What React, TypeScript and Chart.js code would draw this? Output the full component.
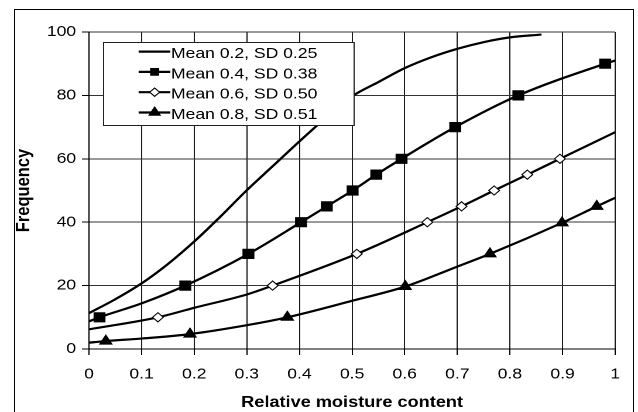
import React, { useEffect, useRef } from 'react';
import { Chart, registerables } from 'chart.js';

Chart.register(...registerables);

// ---------- data ----------
const xTickLabels = ['0', '0.1', '0.2', '0.3', '0.4', '0.5', '0.6', '0.7', '0.8', '0.9', '1'];
const yTickLabels = ['0', '20', '40', '60', '80', '100'];
const seriesNames = ['Mean 0.2, SD 0.25', 'Mean 0.4, SD 0.38', 'Mean 0.6, SD 0.50', 'Mean 0.8, SD 0.51'];
const xTitle = 'Relative moisture content';
const yTitle = 'Frequency';

const s1X = [0, 0.05, 0.1, 0.15, 0.2, 0.25, 0.3, 0.35, 0.4, 0.45, 0.5, 0.55, 0.6, 0.65, 0.7, 0.75, 0.8, 0.86];
const s1Y = [11.3, 15.7, 20.7, 26.8, 33.9, 41.8, 50.1, 57.8, 65.5, 72.9, 79.7, 84.2, 88.6, 92.0, 94.7, 96.8, 98.3, 99.2];

const s2X = [0, 0.02, 0.1, 0.183, 0.303, 0.403, 0.452, 0.501, 0.546, 0.594, 0.696, 0.816, 0.981, 1];
const s2Y = [8.7, 10, 14.4, 20, 30, 40, 45, 50, 55, 60, 70, 80, 90, 91];
const s2Mark = [0, 1, 0, 1, 1, 1, 1, 1, 1, 1, 1, 1, 1, 0];

const s3X = [0, 0.131, 0.2, 0.3, 0.349, 0.509, 0.643, 0.708, 0.77, 0.833, 0.895, 1];
const s3Y = [6.2, 10, 13, 17.2, 20, 30, 40, 45, 50, 55, 60, 68.4];
const s3Mark = [0, 1, 0, 0, 1, 1, 1, 1, 1, 1, 1, 0];

const s4X = [0, 0.032, 0.1, 0.192, 0.3, 0.377, 0.5, 0.601, 0.7, 0.762, 0.899, 0.965, 1];
const s4Y = [2.0, 2.5, 3.3, 4.7, 7.5, 10, 15.2, 19.7, 26, 30, 39.8, 45, 47.7];
const s4Mark = [0, 1, 0, 1, 0, 1, 0, 1, 0, 1, 1, 1, 0];

// ---------- layout / style ----------
const CANVAS_W = 545;
const CANVAS_H = 412;
const STRETCH = 638 / CANVAS_W;
const FONT = "'Liberation Sans', Arial, Helvetica, sans-serif";

type Kind = 'none' | 'rect' | 'rectRot' | 'triangle';
const legendStyles: { kind: Kind; r: number; fill: string }[] = [
  { kind: 'none', r: 0, fill: '#000' },
  { kind: 'rect', r: 4.8, fill: '#000' },
  { kind: 'rectRot', r: 4.2, fill: '#fff' },
  { kind: 'triangle', r: 5.5, fill: '#000' },
];

function drawMarker(ctx: CanvasRenderingContext2D, kind: Kind, x: number, y: number, r: number) {
  ctx.beginPath();
  if (kind === 'rect') {
    const h = r * Math.SQRT1_2;
    ctx.rect(x - h, y - h, 2 * h, 2 * h);
  } else if (kind === 'rectRot') {
    ctx.moveTo(x, y - r);
    ctx.lineTo(x + r, y);
    ctx.lineTo(x, y + r);
    ctx.lineTo(x - r, y);
    ctx.closePath();
  } else if (kind === 'triangle') {
    ctx.moveTo(x, y - r);
    ctx.lineTo(x + r * 0.866, y + r * 0.5);
    ctx.lineTo(x - r * 0.866, y + r * 0.5);
    ctx.closePath();
  }
  ctx.fill();
  ctx.stroke();
}

const boxLegend = {
  id: 'boxLegend',
  afterDraw(chart: any) {
    const { ctx, chartArea } = chart;
    const left = Math.round(chartArea.left + 12.3) + 0.5;
    const top = Math.round(chartArea.top + 10) + 0.5;
    const w = 214;
    const h = 83;
    ctx.save();
    ctx.fillStyle = '#fff';
    ctx.fillRect(left, top, w, h);
    ctx.strokeStyle = '#222';
    ctx.lineWidth = 1;
    ctx.strokeRect(left, top, w, h);
    ctx.font = `15px ${FONT}`;
    ctx.textBaseline = 'alphabetic';
    ctx.textAlign = 'left';
    seriesNames.forEach((name, i) => {
      const base = top + 15.6 + i * 20.3;
      const ly = base - 6.5;
      ctx.strokeStyle = '#000';
      ctx.lineWidth = 2.2;
      ctx.beginPath();
      ctx.moveTo(left + 29.9, ly);
      ctx.lineTo(left + 57, ly);
      ctx.stroke();
      const st = legendStyles[i];
      if (st.kind !== 'none') {
        ctx.lineWidth = 1;
        ctx.fillStyle = st.fill;
        drawMarker(ctx, st.kind, left + 43.6, ly, st.r);
      }
      ctx.fillStyle = '#000';
      ctx.fillText(name, left + 57.5, base);
    });
    ctx.restore();
  },
};

const pts = (xs: number[], ys: number[]) => xs.map((x, i) => ({ x, y: ys[i] }));

export default function App() {
  const ref = useRef<HTMLCanvasElement>(null);

  useEffect(() => {
    const canvas = ref.current;
    if (!canvas) return;
    const base = {
      borderColor: '#000',
      borderWidth: 2.2,
      fill: false,
      cubicInterpolationMode: 'monotone' as const,
      pointBorderColor: '#000',
      pointBorderWidth: 1,
      pointHoverRadius: 0,
    };
    const chart = new Chart(canvas, {
      type: 'line',
      data: {
        datasets: [
          { ...base, label: seriesNames[0], data: pts(s1X, s1Y), pointRadius: 0 },
          {
            ...base,
            label: seriesNames[1],
            data: pts(s2X, s2Y),
            pointStyle: 'rect',
            pointBackgroundColor: '#000',
            pointRadius: (c: any) => (s2Mark[c.dataIndex] ? 6.5 : 0),
          },
          {
            ...base,
            label: seriesNames[2],
            data: pts(s3X, s3Y),
            pointStyle: 'rectRot',
            pointBackgroundColor: '#fff',
            pointRadius: (c: any) => (s3Mark[c.dataIndex] ? 4.6 : 0),
          },
          {
            ...base,
            label: seriesNames[3],
            data: pts(s4X, s4Y),
            pointStyle: 'triangle',
            pointBackgroundColor: '#000',
            pointRadius: (c: any) => (s4Mark[c.dataIndex] ? 6 : 0),
          },
        ] as any,
      },
      options: {
        responsive: false,
        animation: false,
        devicePixelRatio: 2,
        events: [],
        layout: { padding: { left: 10.6, top: 32, right: 19.5, bottom: 0 } },
        plugins: { legend: { display: false }, tooltip: { enabled: false } },
        scales: {
          x: {
            type: 'linear',
            min: 0,
            max: 1,
            afterFit: (s: any) => {
              s.height = 63;
            },
            ticks: {
              stepSize: 0.1,
              autoSkip: false,
              maxRotation: 0,
              padding: 10.5,
              color: '#000',
              font: { family: FONT, size: 15 },
              callback: (_v: any, i: number) => xTickLabels[i] ?? '',
            },
            grid: { color: '#1a1a1a', lineWidth: 1, tickLength: 6, tickColor: '#000' },
            border: { display: true, color: '#000', width: 1 },
            title: {
              display: true,
              text: xTitle,
              color: '#000',
              font: { family: FONT, size: 15.5, weight: 'bold' },
              padding: { top: 0, bottom: 0 },
            },
          },
          y: {
            type: 'linear',
            min: 0,
            max: 100,
            afterFit: (s: any) => {
              s.width = 65.4;
            },
            ticks: {
              stepSize: 20,
              padding: 5,
              color: '#000',
              font: { family: FONT, size: 15 },
              callback: (_v: any, i: number) => yTickLabels[i] ?? '',
            },
            grid: { color: '#333', lineWidth: 1, tickLength: 6, tickColor: '#000' },
            border: { display: true, color: '#000', width: 1 },
            title: {
              display: true,
              text: yTitle,
              color: '#000',
              font: { family: FONT, size: 16.5, weight: 'bold' },
              padding: { top: 0, bottom: 0 },
            },
          },
        },
      } as any,
      plugins: [boxLegend],
    });
    return () => chart.destroy();
  }, []);

  return (
    <div
      style={{
        position: 'fixed',
        left: 0,
        top: 0,
        width: 638,
        height: 412,
        overflow: 'hidden',
        background: '#fff',
      }}
    >
      <canvas
        ref={ref}
        width={CANVAS_W}
        height={CANVAS_H}
        style={{
          position: 'absolute',
          left: 0,
          top: 0,
          width: CANVAS_W,
          height: CANVAS_H,
          transform: `scaleX(${STRETCH})`,
          transformOrigin: '0 0',
        }}
      />
      <div
        style={{
          position: 'absolute',
          left: 14,
          top: 9,
          width: 620,
          height: 420,
          border: '1px solid #000',
          boxSizing: 'border-box',
          pointerEvents: 'none',
        }}
      />
    </div>
  );
}
